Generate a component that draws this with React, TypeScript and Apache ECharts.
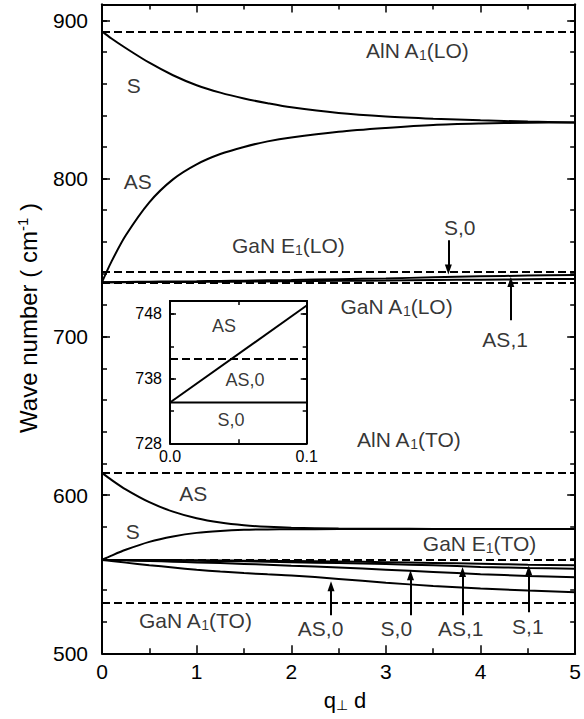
import React, { useEffect, useRef } from 'react';
import * as echarts from 'echarts';

const FONT = '"Liberation Sans", Arial, Helvetica, sans-serif';

// shared abscissa q_perp d
const qs = [0, 0.1, 0.25, 0.5, 0.75, 1, 1.25, 1.5, 1.75, 2, 2.5, 3, 3.5, 4, 4.5, 5];
// LO region branches
const loS = [893, 888.5, 882.5, 873.2, 865.3, 859, 854.3, 850.6, 847.6, 845, 841.4, 839.2, 837.8, 836.8, 836, 835.5];
const loAS = [734.5, 747.5, 764, 785, 799.5, 809, 815.5, 820, 823.5, 826, 829.6, 832, 833.9, 834.8, 835.3, 835.5];
const loS0 = [734.5, 734.55, 734.65, 734.8, 734.95, 735.1, 735.3, 735.5, 735.7, 735.9, 736.4, 736.9, 737.6, 738.2, 738.7, 739];
const loAS1 = [734.5, 734.5, 734.55, 734.6, 734.65, 734.7, 734.8, 734.9, 735, 735.1, 735.35, 735.6, 735.9, 736.1, 736.4, 736.6];
// TO region branches
const toAS = [614, 609.6, 603.6, 595.5, 589.5, 585.3, 582.6, 580.9, 579.9, 579.3, 578.9, 578.7, 578.6, 578.5, 578.5, 578.5];
const toS = [559, 561.7, 565.4, 570.4, 573.8, 576.1, 577.3, 578, 578.3, 578.4, 578.5, 578.5, 578.5, 578.5, 578.5, 578.5];
const toAS0 = [559, 558.3, 557.3, 555.7, 554.2, 552.8, 551.7, 550.7, 549.9, 549.2, 547, 544.6, 542.6, 541, 539.7, 538.6];
const toS0 = [559, 558.9, 558.7, 558.3, 557.9, 557.4, 557, 556.5, 556, 555.4, 554.2, 552.8, 551.4, 550, 548.9, 548];
const toAS1 = [559, 559, 558.9, 558.8, 558.7, 558.5, 558.3, 558.1, 557.9, 557.6, 557, 556.4, 555.6, 554.6, 553.9, 553.4];
const toS1 = [559, 559, 559, 558.95, 558.9, 558.8, 558.7, 558.55, 558.45, 558.3, 558, 557.6, 557.1, 556.6, 556, 555.6];

// bulk phonon frequencies (dashed)
const modeLines = [893, 741, 734, 614, 559, 532];

// inset
const insetQ = [0, 0.1];
const insetAS = [734.3, 749.3];
const insetS0 = [734.3, 734.3];
const insetDashed = [741];

// main labels
const labelTexts = [
  '{t|AlN A}{s|1}{t|(LO)}', '{t|S}', '{t|AS}', '{t|GaN E}{s|1}{t|(LO)}', '{t|S,0}',
  '{t|GaN A}{s|1}{t|(LO)}', '{t|AS,1}', '{t|AlN A}{s|1}{t|(TO)}', '{t|AS}', '{t|S}',
  '{t|GaN E}{s|1}{t|(TO)}', '{t|GaN A}{s|1}{t|(TO)}', '{t|AS,0}', '{t|S,0}', '{t|AS,1}', '{t|S,1}',
];
const labelQ = [3.33, 0.335, 0.377, 1.97, 3.78, 3.11, 4.26, 3.24, 0.963, 0.325, 3.99, 0.984, 2.31, 3.11, 3.79, 4.5];
const labelV = [881.0, 858.9, 798.3, 757.8, 769.2, 719.3, 698.4, 635.2, 601.1, 577.1, 569.5, 520.8, 515.8, 515.8, 515.8, 517.0];

// inset labels
const insetLabelTexts = ['{t|AS}', '{t|AS,0}', '{t|S,0}'];
const insetLabelQ = [0.0395, 0.0549, 0.0446];
const insetLabelV = [746.1, 737.8, 731.6];

// arrows
const arrowQ = [3.66, 4.32, 2.42, 3.26, 3.81, 4.51];
const arrowFrom = [761, 710.4, 524, 524, 524, 526];
const arrowTo = [742.6, 734.6, 542.4, 549.4, 551.4, 552.4];

const black = '#000';

function yAxisCfg(grid: number, pos: string, min: number, max: number, interval: number, len: number, labels: boolean, fontSize: number, margin: number) {
  return {
    type: 'value', gridIndex: grid, position: pos, min, max, interval,
    axisLine: { show: true, onZero: false, lineStyle: { color: black, width: 2 } },
    axisTick: { show: true, inside: true, length: len, lineStyle: { color: black, width: 1.5 } },
    axisLabel: {
      show: labels, color: black, fontSize, fontFamily: FONT, margin,
      formatter: (v: number) => {
        const k = (v - min) / interval;
        return Math.abs(k - Math.round(k)) < 1e-6 && v !== max ? String(v) : '';
      },
    },
    splitLine: { show: false },
  };
}

function xAxisCfg(grid: number, pos: string, min: number, max: number, interval: number, len: number, minorLen: number, labels: boolean, fontSize: number, margin: number, digits: number) {
  return {
    type: 'value', gridIndex: grid, position: pos, min, max, interval,
    axisLine: { show: true, onZero: false, lineStyle: { color: black, width: 2 } },
    axisTick: { show: true, inside: true, length: len, lineStyle: { color: black, width: 1.5 } },
    minorTick: { show: true, splitNumber: 2, length: minorLen, lineStyle: { color: black, width: 1.5 } },
    axisLabel: { show: labels, color: black, fontSize, fontFamily: FONT, margin, formatter: (v: number) => v.toFixed(digits) },
    splitLine: { show: false },
    minorSplitLine: { show: false },
  };
}

function curve(ys: number[], xi = 0, yi = 0, xs = qs) {
  return {
    type: 'line', xAxisIndex: xi, yAxisIndex: yi,
    data: xs.map((q, i) => [q, ys[i]]),
    showSymbol: false, symbol: 'none', smooth: 0.3,
    lineStyle: { color: black, width: 2 }, silent: true, z: 3,
  };
}

const richMain = {
  t: { fontSize: 21, color: black, fontFamily: FONT },
  s: { fontSize: 14, color: black, fontFamily: FONT, padding: [10, 0, 0, 0] },
};
const richInset = {
  t: { fontSize: 18, color: black, fontFamily: FONT },
};

export default function App() {
  const ref = useRef<HTMLDivElement>(null);
  useEffect(() => {
    if (!ref.current) return;
    const chart = echarts.init(ref.current, null, { renderer: 'svg' });
    const option: any = {
      animation: false,
      backgroundColor: '#fff',
      grid: [
        { left: 102, right: 4, top: 4.5, bottom: 65.7, show: false },
        { left: 170, right: 277.3, top: 301, bottom: 275.7, show: true, backgroundColor: '#fff', borderWidth: 0 },
      ],
      xAxis: [
        xAxisCfg(0, 'bottom', 0, 5, 1, 8, 5, true, 21, 8, 0),
        xAxisCfg(0, 'top', 0, 5, 1, 8, 5, false, 21, 8, 0),
        xAxisCfg(1, 'bottom', 0, 0.1, 0.1, 6, 4, true, 16, 5, 1),
        xAxisCfg(1, 'top', 0, 0.1, 0.1, 6, 4, false, 16, 5, 1),
      ],
      yAxis: [
        yAxisCfg(0, 'left', 500, 910, 100, 8, true, 21, 14),
        yAxisCfg(0, 'left', 500, 910, 20, 5, false, 21, 14),
        yAxisCfg(0, 'right', 500, 910, 100, 8, false, 21, 14),
        yAxisCfg(0, 'right', 500, 910, 20, 5, false, 21, 14),
        yAxisCfg(1, 'left', 728, 750, 10, 6, true, 16, 8),
        yAxisCfg(1, 'left', 728, 750, 5, 4, false, 16, 8),
        yAxisCfg(1, 'right', 728, 750, 10, 6, false, 16, 8),
        yAxisCfg(1, 'right', 728, 750, 5, 4, false, 16, 8),
      ],
      series: [
        curve(loS), curve(loAS), curve(loS0), curve(loAS1),
        curve(toAS), curve(toS), curve(toAS0), curve(toS0), curve(toAS1), curve(toS1),
        {
          type: 'line', xAxisIndex: 0, yAxisIndex: 0, data: [], silent: true,
          markLine: {
            silent: true, symbol: ['none', 'none'], label: { show: false },
            lineStyle: { color: black, width: 2, type: [8, 4] },
            data: modeLines.map((v) => ({ yAxis: v })),
          },
        },
        {
          type: 'line', xAxisIndex: 0, yAxisIndex: 0, data: [], silent: true,
          markLine: {
            silent: true, symbol: ['none', 'triangle'], symbolSize: [7, 10], label: { show: false },
            lineStyle: { color: black, width: 2, type: 'solid' },
            itemStyle: { color: black },
            data: arrowQ.map((q, i) => [{ coord: [q, arrowFrom[i]] }, { coord: [q, arrowTo[i]] }]),
          },
        },
        {
          type: 'scatter', xAxisIndex: 0, yAxisIndex: 0, symbolSize: 1, silent: true,
          itemStyle: { color: 'rgba(0,0,0,0)' },
          label: { show: true, position: 'inside', align: 'center', verticalAlign: 'middle', rich: richMain },
          data: labelQ.map((q, i) => ({ value: [q, labelV[i]], label: { formatter: labelTexts[i] } })),
          z: 5,
        },
        // inset
        curve(insetAS, 2, 4, insetQ),
        curve(insetS0, 2, 4, insetQ),
        {
          type: 'line', xAxisIndex: 2, yAxisIndex: 4, data: [], silent: true,
          markLine: {
            silent: true, symbol: ['none', 'none'], label: { show: false },
            lineStyle: { color: black, width: 2, type: [8, 4] },
            data: insetDashed.map((v) => ({ yAxis: v })),
          },
        },
        {
          type: 'scatter', xAxisIndex: 2, yAxisIndex: 4, symbolSize: 1, silent: true,
          itemStyle: { color: 'rgba(0,0,0,0)' },
          label: { show: true, position: 'inside', align: 'center', verticalAlign: 'middle', rich: richInset },
          data: insetLabelQ.map((q, i) => ({ value: [q, insetLabelV[i]], label: { formatter: insetLabelTexts[i] } })),
          z: 5,
        },
      ],
      graphic: [
        {
          type: 'text', x: 28, y: 318, rotation: Math.PI / 2,
          style: {
            text: '{t|Wave number ( cm}{p|-1}{t| )}',
            align: 'center', verticalAlign: 'middle',
            rich: {
              t: { fontSize: 24, fill: black, fontFamily: FONT },
              p: { fontSize: 15, fill: black, fontFamily: FONT, padding: [0, 0, 11, 0] },
            },
          },
        },
        {
          type: 'text', x: 345, y: 700,
          style: {
            text: '{t|q}{s|⊥}{t| d}',
            align: 'center', verticalAlign: 'middle',
            rich: {
              t: { fontSize: 22, fill: black, fontFamily: FONT },
              s: { fontSize: 14, fill: black, fontFamily: FONT, padding: [10, 0, 0, 0] },
            },
          },
        },
      ],
    };
    chart.setOption(option);
    return () => chart.dispose();
  }, []);
  return <div ref={ref} style={{ position: 'fixed', left: 0, top: 0, width: 584, height: 719 }} />;
}
